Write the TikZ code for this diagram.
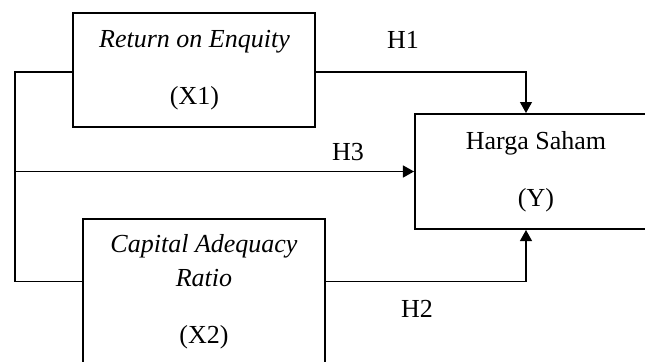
\documentclass[tikz,border=0pt]{standalone}
\usepackage{fontspec}
\setmainfont{Liberation Serif}
\usetikzlibrary{arrows.meta,calc}
\tikzstyle{tsText} = [
    text=black,
    font=\fontsize{13}{17}\selectfont
]
\tikzstyle{tsBox} = [
    rectangle,
    tsText,
    align=center,
    draw=black,
    line width=1pt,
    minimum width=121pt]
\tikzstyle{tsLine} = [
    draw=black,
    line width=0.6pt]
\tikzstyle{tsArrow} = [
    tsLine,
    -{Triangle[length=5.5pt,width=6pt]}]

\begin{document}
\begin{tikzpicture}[x=0.5pt, y=-0.5pt]

    \clip (0,0) rectangle (645,361);

    \node[  tsBox,
            minimum height=57pt] (roe) at (194.5,70)
            {\textit{Return on Enquity}\\[11.5pt](X1)};

    \node[  tsBox,
            minimum height=57.5pt] (harga) at (536,171.5)
            {Harga Saham\\[11.5pt](Y)};

    \node[  tsBox,
            minimum height=73pt] (car) at (204,292)
            {\textit{Capital Adequacy}\\\textit{Ratio}\\[11.5pt](X2)};

    \coordinate (busTop) at (15,72);
    \coordinate (busBot) at (15,281.5);
    \coordinate (hx) at (526,0);

    \node[tsText] (h1) at (403,40) {H1};
    \node[tsText] (h3) at (348,152) {H3};
    \node[tsText] (h2) at (417,309) {H2};

    \draw[tsLine] (roe.west |- busTop) -- (busTop) -- (busBot) -- (car.west |- busBot);
    \draw[tsArrow] (busTop |- harga.west) -- (harga.west);
    \draw[tsArrow] (roe.east |- busTop) -| (harga.north -| hx);
    \draw[tsArrow] (car.east |- busBot) -| (harga.south -| hx);

\end{tikzpicture}
\end{document}
